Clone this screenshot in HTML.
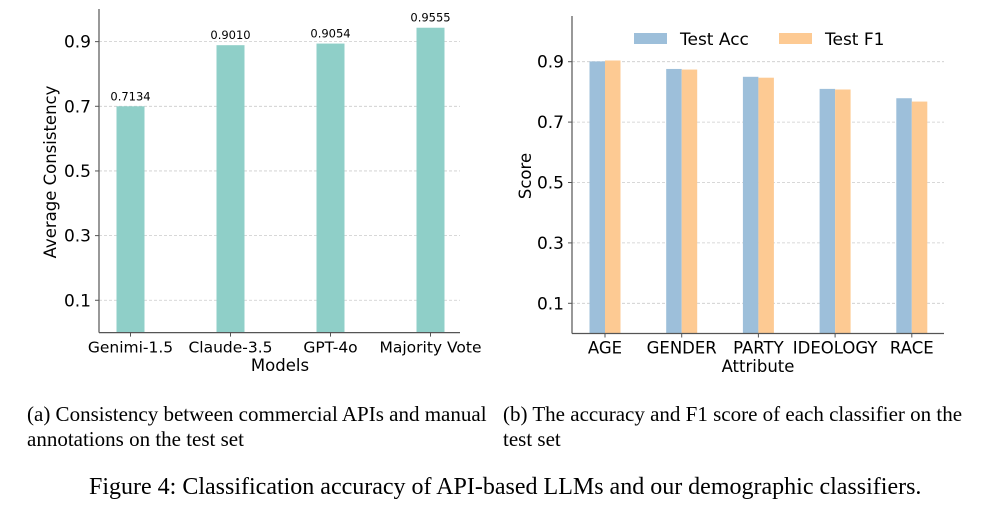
<!DOCTYPE html>
<html><head><meta charset="utf-8"><style>
body{margin:0;background:#fff;width:986px;height:507px;overflow:hidden;font-family:"Liberation Sans","DejaVu Sans",sans-serif}
svg text{font-family:"DejaVu Sans","Liberation Sans",sans-serif}
.cap{position:absolute;font-family:"Liberation Serif",serif;font-size:21px;color:#000;line-height:25px}
</style></head><body>
<svg id="c" width="986" height="507" style="position:absolute;left:0;top:0"></svg>
<div class="cap" style="left:27px;top:402px;width:476px">(a) Consistency between commercial APIs and manual annotations on the test set</div>
<div class="cap" style="left:503px;top:402px;width:475px">(b) The accuracy and F1 score of each classifier on the test set</div>
<div class="cap" style="left:89px;top:473px;width:880px;white-space:nowrap;font-size:24px;line-height:28px">Figure 4: Classification accuracy of API-based LLMs and our demographic classifiers.</div>
<script>
const modelsCats=["Genimi-1.5","Claude-3.5","GPT-4o","Majority Vote"];
const modelsVals=[0.700,0.889,0.894,0.943];
const modelsLabels=["0.7134","0.9010","0.9054","0.9555"];
const attrCats=["AGE","GENDER","PARTY","IDEOLOGY","RACE"];
const accVals=[0.901,0.876,0.850,0.810,0.779];
const f1Vals=[0.904,0.874,0.847,0.808,0.768];
const yTicks=[0.1,0.3,0.5,0.7,0.9];
const NS="http://www.w3.org/2000/svg";
const svg=document.getElementById('c');
function mk(t,a,p){const e=document.createElementNS(NS,t);for(const k in a)e.setAttribute(k,a[k]);(p||svg).appendChild(e);return e;}
function txt(s,a){const e=mk('text',a);e.textContent=s;return e;}
// left chart
const L={x0:99,x1:460,y0:332.6,top:9,k:323.3};
const ly=v=>L.y0-v*L.k, lx=i=>130.5+i*100;
yTicks.forEach(t=>{
 let g=mk('line',{x1:L.x0,x2:L.x1,y1:ly(t),y2:ly(t),stroke:'#ccc','stroke-dasharray':'3,2','stroke-width':0.8});
 
 mk('line',{x1:L.x0-4,x2:L.x0,y1:ly(t),y2:ly(t),stroke:'#555'});
 let e=txt(t.toFixed(1),{x:L.x0-8,y:ly(t)+6,'text-anchor':'end','font-size':17});
 
});
modelsCats.forEach((c,i)=>{
 let b=mk('rect',{x:lx(i)-14,y:ly(modelsVals[i]),width:28,height:modelsVals[i]*L.k,fill:'#8fcfc8'});
 
 let v=txt(modelsLabels[i],{x:lx(i),y:ly(modelsVals[i])-6,'text-anchor':'middle','font-size':11.5});
 
 mk('line',{x1:lx(i),x2:lx(i),y1:L.y0,y2:L.y0+4,stroke:'#555'});
 let e=txt(c,{x:lx(i),y:L.y0+20,'text-anchor':'middle','font-size':15.5});
 
});
mk('line',{x1:L.x0,x2:L.x0,y1:L.top,y2:L.y0,stroke:'#555','stroke-width':1.2});
mk('line',{x1:L.x0,x2:L.x1,y1:L.y0,y2:L.y0,stroke:'#555','stroke-width':1.2});
let t1=txt('Models',{x:280,y:371,'text-anchor':'middle','font-size':16.5});
let t2=txt('Average Consistency',{x:0,y:0,'text-anchor':'middle','font-size':16.5,transform:'translate(56,172) rotate(-90)'});
// right chart
const R={x0:572,x1:944,y0:333.5,top:16,k:302};
const ry=v=>R.y0-v*R.k, rx=i=>605+i*76.7;
yTicks.forEach(t=>{
 let g=mk('line',{x1:R.x0,x2:R.x1,y1:ry(t),y2:ry(t),stroke:'#ccc','stroke-dasharray':'3,2','stroke-width':0.8});
 
 mk('line',{x1:R.x0-4,x2:R.x0,y1:ry(t),y2:ry(t),stroke:'#555'});
 let e=txt(t.toFixed(1),{x:R.x0-8,y:ry(t)+6,'text-anchor':'end','font-size':17});
 
});
attrCats.forEach((c,i)=>{
 let a=mk('rect',{x:rx(i)-15.5,y:ry(accVals[i]),width:15.5,height:accVals[i]*R.k,fill:'#9dbfda'});
 
 let f=mk('rect',{x:rx(i),y:ry(f1Vals[i]),width:15.5,height:f1Vals[i]*R.k,fill:'#fdca93'});
 
 mk('line',{x1:rx(i),x2:rx(i),y1:R.y0,y2:R.y0+4,stroke:'#555'});
 let e=txt(c,{x:rx(i),y:R.y0+20,'text-anchor':'middle','font-size':16.5});
 
});
mk('line',{x1:R.x0,x2:R.x0,y1:R.top,y2:R.y0,stroke:'#555','stroke-width':1.2});
mk('line',{x1:R.x0,x2:R.x1,y1:R.y0,y2:R.y0,stroke:'#555','stroke-width':1.2});
let t3=txt('Attribute',{x:758,y:372,'text-anchor':'middle','font-size':16.5});
let t4=txt('Score',{x:0,y:0,'text-anchor':'middle','font-size':16.5,transform:'translate(531,176) rotate(-90)'});
// legend
let s1=mk('rect',{x:634,y:33,width:33,height:11,fill:'#9dbfda'});
let l1=txt('Test Acc',{x:680,y:45,'font-size':17});
let s2=mk('rect',{x:779,y:33,width:33,height:11,fill:'#fdca93'});
let l2=txt('Test F1',{x:825,y:45,'font-size':17});
</script>
</body></html>
